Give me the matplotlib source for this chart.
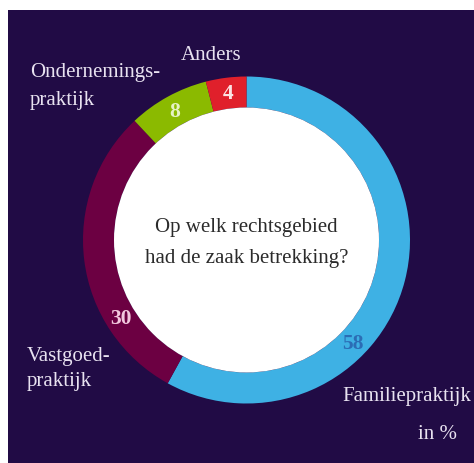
import matplotlib
matplotlib.use("Agg")
import matplotlib.pyplot as plt
from matplotlib.patches import Rectangle
import numpy as np

categories = ["Familiepraktijk", "Vastgoedpraktijk", "Ondernemingspraktijk", "Anders"]
values = [58, 30, 8, 4]
value_labels = ["58", "30", "8", "4"]
colors = ["#3eb1e4", "#6c0042", "#8bba00", "#e0202b"]
label_colors = ["#2b6db5", "#f3c9de", "#e6f2c4", "#fbe3e3"]
label_angles = [-44, 212, 119, 97]

BG = "#210b45"
TXT = "#e8e2f0"

W, H = 474, 464
fig = plt.figure(figsize=(W / 100, H / 100), dpi=100)
fig.patch.set_facecolor("white")
ax = fig.add_axes([0, 0, 1, 1])
ax.set_xlim(0, W)
ax.set_ylim(0, H)
ax.axis("off")

ax.add_patch(Rectangle((8, 0), W - 8, H - 11, facecolor=BG, edgecolor="none", zorder=0))

cx, cy = 246.5, H - 241
R, ring = 163.5, 31
ax.pie(values, colors=colors, startangle=90, counterclock=False,
       center=(cx, cy), radius=R, frame=True,
       wedgeprops=dict(width=ring, edgecolor="none", linewidth=0))
ax.set_xlim(0, W)
ax.set_ylim(0, H)
ax.set_aspect("auto")
ax.axis("off")
ax.add_patch(plt.Circle((cx, cy), R - ring, facecolor="white", edgecolor="none", zorder=1))

font = "Liberation Serif"
rm = R - ring / 2
for lab, ang, col in zip(value_labels, label_angles, label_colors):
    a = np.deg2rad(ang)
    ax.text(cx + rm * np.cos(a), cy + rm * np.sin(a), lab, color=col,
            fontsize=15.5, fontweight="bold", family=font, ha="center", va="center", zorder=3)

ax.text(cx, H - 228, "Op welk rechtsgebied", color="#2b2b2b", fontsize=15,
        family=font, ha="center", va="center", zorder=3)
ax.text(cx, H - 258, "had de zaak betrekking?", color="#2b2b2b", fontsize=15,
        family=font, ha="center", va="center", zorder=3)

fs = 15
ax.text(211, H - 56, "Anders", color=TXT, fontsize=fs, family=font, ha="center", va="center")
ax.text(30, H - 73, "Ondernemings-", color=TXT, fontsize=fs, family=font, ha="left", va="center")
ax.text(30, H - 100, "praktijk", color=TXT, fontsize=fs, family=font, ha="left", va="center")
ax.text(27, H - 357, "Vastgoed-", color=TXT, fontsize=fs, family=font, ha="left", va="center")
ax.text(27, H - 382, "praktijk", color=TXT, fontsize=fs, family=font, ha="left", va="center")
ax.text(342, H - 397, "Familiepraktijk", color=TXT, fontsize=fs, family=font, ha="left", va="center")
ax.text(438, H - 435, "in %", color=TXT, fontsize=fs, family=font, ha="center", va="center")

fig.savefig("out.png", dpi=100, facecolor=fig.get_facecolor())
